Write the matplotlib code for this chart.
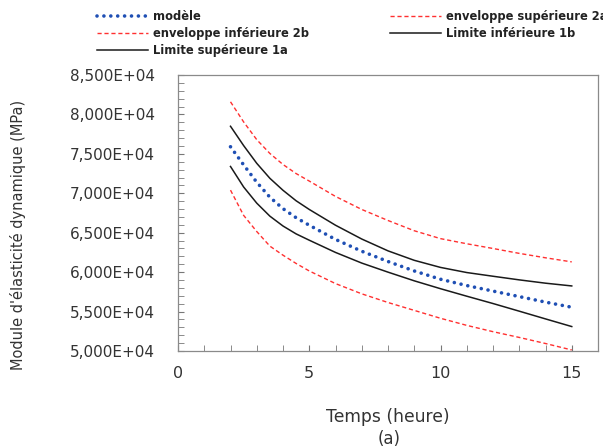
"""Module d'élasticité dynamique vs temps, with the two envelope pairs."""

import matplotlib
matplotlib.use("Agg")
from matplotlib import pyplot as plt
from matplotlib.ticker import MultipleLocator, FuncFormatter

# time (hours)
temps = [2, 2.5, 3, 3.5, 4, 4.5, 5, 6, 7, 8, 9, 10, 11, 12, 13, 14, 15]

# values (MPa)
modele = [75900, 73600, 71400, 69500, 68050, 66900, 65950, 64150, 62650,
          61350, 60150, 59100, 58300, 57600, 56900, 56200, 55550]
env_sup_2a = [81600, 79050, 76800, 75050, 73650, 72500, 71550, 69600, 67950,
              66550, 65250, 64250, 63600, 63000, 62380, 61820, 61300]
env_inf_2b = [70400, 67200, 65150, 63300, 62150, 61100, 60150, 58550, 57250,
              56150, 55150, 54150, 53250, 52450, 51720, 50950, 50130]
lim_sup_1a = [78500, 76050, 73800, 71900, 70380, 69050, 67950, 65950, 64200,
              62700, 61500, 60600, 59950, 59480, 59020, 58600, 58250]
lim_inf_1b = [73400, 70800, 68750, 67100, 65850, 64850, 64050, 62500, 61150,
              60000, 58900, 57900, 56950, 56020, 55050, 54070, 53100]

RED = "#ff3030"
BLUE = "#1f4fb4"
DARK = "#1a1a1a"
TXT = "#333333"

fig = plt.figure(figsize=(6.03, 4.47), dpi=100)
ax = fig.add_axes([178 / 603, 1 - 351 / 447, 420 / 603, 276 / 447])

h_mod, = ax.plot(temps, modele, color=BLUE, lw=2.6,
                 linestyle=(0, (0.01, 1.9)), dash_capstyle="round",
                 label="modèle")
h_sup2, = ax.plot(temps, env_sup_2a, color=RED, lw=1.0,
                  linestyle=(0, (3, 2)), label="enveloppe supérieure 2a")
h_inf2, = ax.plot(temps, env_inf_2b, color=RED, lw=1.0,
                  linestyle=(0, (3, 2)), label="enveloppe inférieure 2b")
h_inf1, = ax.plot(temps, lim_inf_1b, color=DARK, lw=1.1,
                  label="Limite inférieure 1b")
h_sup1, = ax.plot(temps, lim_sup_1a, color=DARK, lw=1.1,
                  label="Limite supérieure 1a")

ax.set_xlim(0, 16)
ax.set_ylim(50000, 85000)
ax.set_xticks([0, 5, 10, 15])
ax.xaxis.set_minor_locator(MultipleLocator(1))
ax.yaxis.set_major_locator(MultipleLocator(5000))
ax.yaxis.set_minor_locator(MultipleLocator(1000))
ax.yaxis.set_major_formatter(
    FuncFormatter(lambda v, _: f"{v / 1e4:.3f}E+04".replace(".", ",")))
ax.tick_params(which="both", direction="in", length=4, color="#777777",
               labelcolor=TXT)
ax.tick_params(axis="x", labelsize=11.5, pad=11)
ax.tick_params(axis="y", labelsize=11, pad=16.5)
for sp in ax.spines.values():
    sp.set_color("#8a8a8a")
    sp.set_linewidth(0.9)

fig.text(18 / 603, 1 - 235 / 447, "Module d'élasticité dynamique (MPa)",
         rotation=90, ha="center", va="center", fontsize=10.5, color=TXT)
fig.text(388 / 603, 1 - 417 / 447, "Temps (heure)", ha="center",
         va="center", fontsize=12.3, color=TXT)
fig.text(389 / 603, 1 - 439 / 447, "(a)", ha="center", va="center",
         fontsize=12, color=TXT)

leg_kw = dict(frameon=False, prop={"size": 8.3, "weight": "bold"},
              handlelength=4.4, handletextpad=0.5, labelspacing=0.35,
              borderpad=0, borderaxespad=0, loc="upper left",
              labelcolor="#222222")
fig.legend(handles=[h_mod, h_inf2, h_sup1],
           bbox_to_anchor=(97 / 603, 1 - 10 / 447), **leg_kw)
fig.legend(handles=[h_sup2, h_inf1],
           bbox_to_anchor=(390 / 603, 1 - 10 / 447), **leg_kw)

fig.savefig("out.png", dpi=100)
plt.close(fig)
